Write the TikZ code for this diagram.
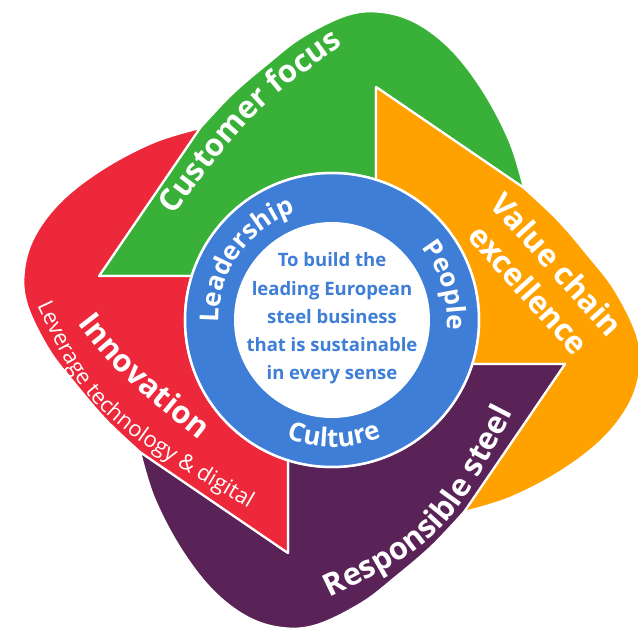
\documentclass[tikz,border=0pt]{standalone}
\usepackage{fontspec}
\setmainfont{Open Sans}
\usetikzlibrary{decorations.text}
\definecolor{cgreen}{RGB}{57,177,57}
\definecolor{corange}{RGB}{255,162,0}
\definecolor{cpurple}{RGB}{90,35,88}
\definecolor{cred}{RGB}{236,40,58}
\definecolor{cblue}{RGB}{62,126,215}
\newcommand\myouterfont{\fontsize{31}{38}\selectfont\bfseries}
\newcommand\myringfont{\fontsize{26}{30}\selectfont\bfseries}
\newcommand\mysubfont{\fontsize{22}{26}\selectfont}
\newcommand\mycenterfont{\fontsize{18.5}{28.25}\selectfont\bfseries}
\newcommand\mypetal[2]{%
  \path[petal, fill=#1, rotate=#2]
    (-233,44) -- (-140.3,44) arc[start angle=162.59, end angle=72.59, radius=147]
    -- (44,233) -- (192,132)
    -- plot[smooth, tension=0.6] coordinates {(192,132) (178,178) (152,228) (120,270) (85,297) (50,308) (15,305) (-30,283) (-65,256) (-100,226) (-132,192)}
    -- cycle;}
\begin{document}
\begin{tikzpicture}[x=1pt,y=1pt,
  petal/.style={draw=white, line width=2.2pt, line join=round},
  curvetext/.style={decorate, decoration={text along path, text align=center, text color=white}}]
\useasboundingbox (-332,-310) rectangle (306,320);
% petals
\mypetal{cgreen}{0}
\mypetal{corange}{-90}
\mypetal{cpurple}{-180}
\mypetal{cred}{90}
% ring
\path[fill=cblue, draw=white, line width=2.5pt] (0,0) circle[radius=147];
\path[fill=white] (0,0) circle[radius=98];
% centre text
\node[font=\mycenterfont, text=cblue, align=center] (mission) at (0,1.5)
  {To build the\\leading European\\steel business\\that is sustainable\\in every sense};
% ring labels
\path[curvetext, decoration={text={|\myringfont|Leadership}}]
  (220:113) arc[start angle=220, end angle=70, radius=113];
\path[curvetext, decoration={text={|\myringfont|People}}]
  (87:115) arc[start angle=87, end angle=-53, radius=115];
\path[curvetext, decoration={text={|\myringfont|Culture}}]
  (-149:127) arc[start angle=-149, end angle=-29, radius=127];
% outer labels
\path[curvetext, decoration={text={|\myouterfont|Customer focus}}]
  (-171,88.4) .. controls (-77.5,212.9) .. (28,287);
\path[curvetext, decoration={text={|\myouterfont|Responsible steel}}]
  (-43.6,-297.3) .. controls (114.7,-223.5) .. (202.1,-51.6);
\path[curvetext, decoration={text={|\myouterfont|Innovation}}]
  (-270,16.8) .. controls (-217.8,-51.8) .. (-112.7,-136);
\path[curvetext, decoration={text={|\mysubfont|Leverage technology {\&} digital}}]
  (-306.5,39.6) .. controls (-244.5,-94.4) .. (-59.7,-202.1);
\node[font=\myouterfont, text=white, align=center, rotate=-48] (value) at (211,43)
  {Value chain\\excellence};
\end{tikzpicture}
\end{document}
